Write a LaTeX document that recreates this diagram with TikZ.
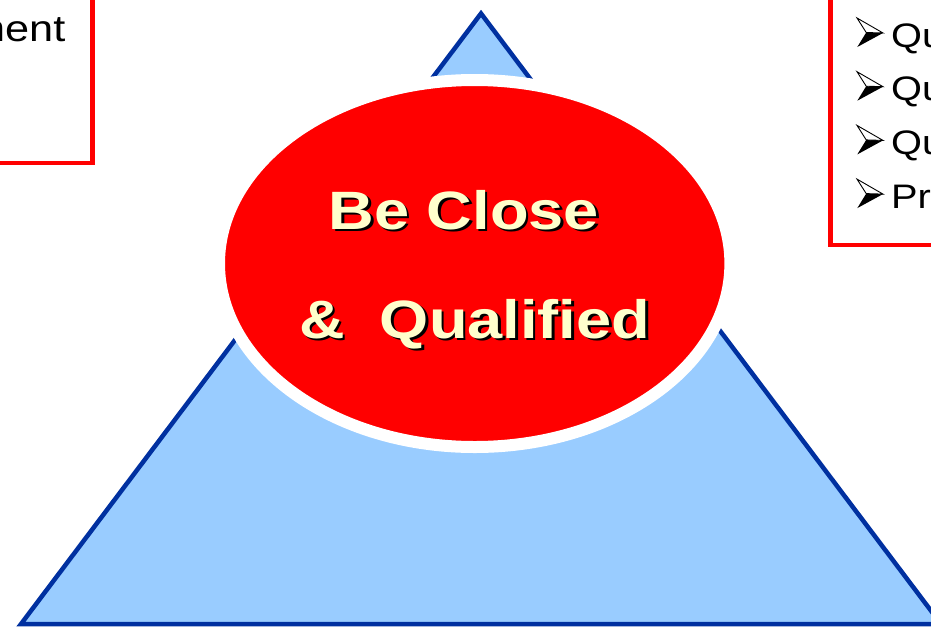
\documentclass[tikz,border=0pt]{standalone}
\usepackage{fontspec}
\setmainfont{Liberation Sans}[FakeStretch=1.17]
\usetikzlibrary{shapes.geometric}
\definecolor{boxred}{RGB}{255,0,0}
\definecolor{pyrfill}{RGB}{153,204,255}
\definecolor{pyrline}{RGB}{0,48,160}
\definecolor{cream}{RGB}{255,255,204}
\begin{document}
\begin{tikzpicture}[x=1pt,y=-1pt,
  redbox/.style={draw=boxred, line width=4.5pt},
  pyramid/.style={fill=pyrfill, draw=pyrline, line width=4.5pt, line join=miter},
  listtext/.style={inner sep=0pt, anchor=base west, font=\fontsize{34}{40}\selectfont},
  titletext/.style={inner sep=0pt, anchor=base west, text=cream, font=\bfseries\fontsize{54}{64}\selectfont},
  titleshadow/.style={titletext, text=black, xshift=2.5pt, yshift=-2.5pt},
  bulletmark/.pic={
    \fill[black] (9.2,-14.5) -- (26,-14) -- (0.3,0) -- cycle;
    \draw[black, line width=0.9pt, line join=miter, fill=white]
      (0,-29) -- (26,-14) -- (9.2,-14.5) -- cycle;
  }]
\useasboundingbox (0,0) rectangle (931,627);

% text frames at the sides
\draw[redbox] (-20,-20) rectangle (92.5,163);
\node[inner sep=0pt, anchor=base east, font=\fontsize{37}{44}\selectfont] (lefttext) at (65.5,41) {ment};

\draw[redbox] (830.5,-20) rectangle (960,245);
\foreach \i/\t/\yb in {1/Qu/47,2/Qu/100.7,3/Qu/154.4,4/Pr/208.1}{
  \pic at (857,\yb) {bulletmark};
  \node[listtext] (item\i) at (891,\yb) {\t};
}

% pyramid
\coordinate (apex) at (481,13.5);
\coordinate (baseleft) at (21,624);
\coordinate (baseright) at (941,624);
\draw[pyramid] (apex) -- (baseleft) -- (baseright) -- cycle;

% red ellipse with a white rim
\node[ellipse, fill=boxred, draw=white, line width=12pt, inner sep=0pt,
      minimum width=511.4pt, minimum height=367pt] (core) at (474.7,263.5) {};

% title inside the ellipse, with a drop shadow
\node[titleshadow] (line1s) at (328.4,229) {Be Close};
\node[titletext] (line1) at (328.4,229) {Be Close};
\node[titleshadow] (line2s) at (299,338.3) {\&\ \ Qualified};
\node[titletext] (line2) at (299,338.3) {\&\ \ Qualified};
\end{tikzpicture}
\end{document}
